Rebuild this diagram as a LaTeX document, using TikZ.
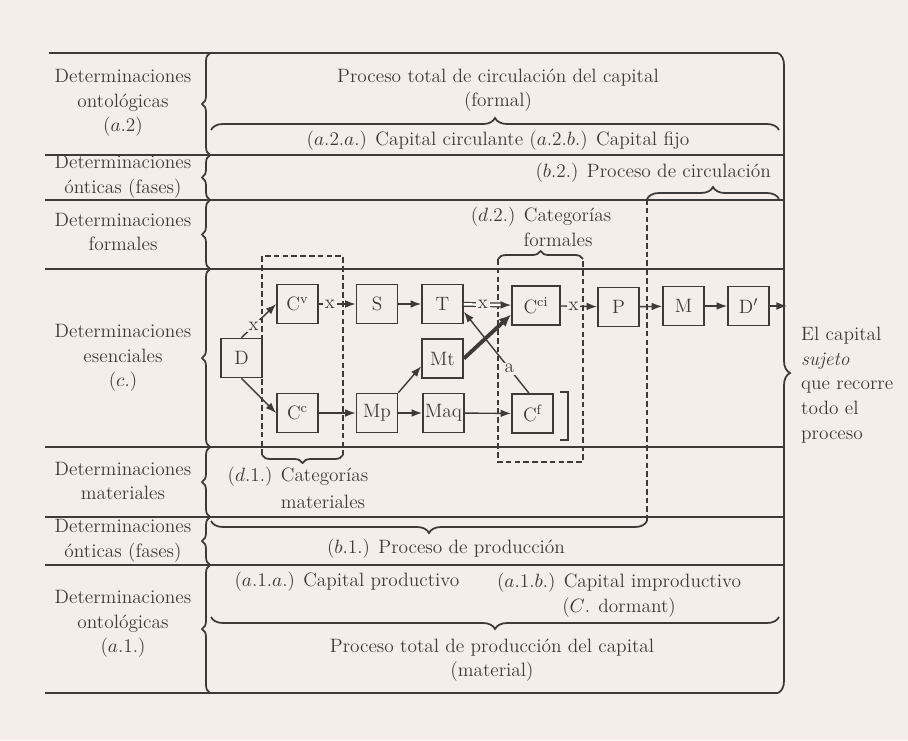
\documentclass[tikz,border=0pt]{standalone}
\usepackage{tikz}
\usetikzlibrary{arrows.meta, decorations.pathreplacing}
\definecolor{paper}{RGB}{245, 237, 233}
\definecolor{ink}{RGB}{62, 58, 58}

\begin{document}
\begin{tikzpicture}[x=0.02cm, y=-0.02cm, ink, text=ink, font=\fontsize{11}{14}\selectfont,
  box/.style={draw=ink, line width=1pt, minimum width=0.82cm, minimum height=0.78cm, inner sep=1pt},
  rowlbl/.style={align=center},
  tag/.style={fill=paper, inner sep=1pt},
  arr/.style={-{Latex[length=6pt, width=4.4pt]}, line width=0.8pt},
  frame/.style={line width=1pt},
  dline/.style={line width=0.8pt, dash pattern=on 3.2pt off 1.8pt},
  brc/.style={decorate, decoration={brace, amplitude=#1}, line width=1pt}]

  % Background
  \fill[paper] (0,0) rectangle (908,740);
  \useasboundingbox (0,0) rectangle (908,740);

  % Frame and rows
  \draw[frame] (49,53) -- (778,53);
  \draw[frame] (45,693) -- (778,693);
  \foreach \y in {155,200,269,447,517,565}
    \draw[frame] (45,\y) -- (784,\y);
  \draw[brc=0.24cm] (778,53) -- (778,693);
  \foreach \a/\b in {53/155, 155/200, 200/269, 269/447, 447/517, 517/565, 565/693}
    \draw[brc=0.16cm] (210,\b) -- (210,\a);

  % Row labels
  \node[rowlbl] (ont2) at (123,103) {Determinaciones\\ontológicas\\($a$.2)};
  \node[rowlbl] (ont2f) at (123,177) {Determinaciones\\ónticas (fases)};
  \node[rowlbl] (form) at (123,232) {Determinaciones\\formales};
  \node[rowlbl] (esen) at (123,358) {Determinaciones\\esenciales\\($c$.)};
  \node[rowlbl] (mat) at (123,481) {Determinaciones\\materiales};
  \node[rowlbl] (ont1f) at (123,541) {Determinaciones\\ónticas (fases)};
  \node[rowlbl] (ont1) at (123,624) {Determinaciones\\ontológicas\\($a$.1.)};

  % Circulation side
  \node[rowlbl] (circtot) at (498,90) {Proceso total de circulación del capital\\(formal)};
  \draw[brc=0.24cm] (211,130) -- (779,130);
  \node (circfij) at (498,141) {($a$.2.$a$.) Capital circulante ($a$.2.$b$.) Capital fijo};
  \node[anchor=east] (circ) at (777,173) {($b$.2.) Proceso de circulación};
  \draw[brc=0.24cm] (647,199) -- (779,199);
  \draw[dline] (647,199) -- (647,521);

  % Formal categories
  \node (d2a) at (541,217) {($d$.2.) Categorías};
  \node (d2b) at (558,240) {formales};
  \draw[brc=0.16cm] (498,259) -- (583,259);
  \draw[dline] (498,259) -- (498,462) -- (583,462) -- (583,259);

  % Material categories
  \draw[dline] (262,455) -- (262,256) -- (343,256) -- (343,455);
  \draw[brc=0.16cm] (343,455) -- (262,455);
  \node (d1a) at (298,477) {($d$.1.) Categorías};
  \node (d1b) at (323,502) {materiales};

  % Production side
  \draw[brc=0.24cm] (647,521) -- (211,521);
  \node (prod) at (446,549) {($b$.1.) Proceso de producción};
  \node (prodcap) at (347,582) {($a$.1.$a$.) Capital productivo};
  \node[rowlbl] (improd) at (619,595) {($a$.1.$b$.) Capital improductivo\\($C$. dormant)};
  \draw[brc=0.24cm] (779,617) -- (211,617);
  \node[rowlbl] (prodtot) at (492,660) {Proceso total de producción del capital\\(material)};

  % Subject
  \node[align=left, anchor=west] (sujeto) at (795,385) {El capital\\\textit{sujeto}\\que recorre\\todo el\\proceso};

  % Boxes
  \node[box] (D) at (241.5,358) {D};
  \node[box] (Cv) at (297.5,304) {C\textsuperscript{v}};
  \node[box] (Cc) at (297.5,413) {C\textsuperscript{c}};
  \node[box] (S) at (377,304) {S};
  \node[box] (T) at (442.5,304) {T};
  \node[box] (Mt) at (442.5,358.5) {Mt};
  \node[box] (Mp) at (377,413) {Mp};
  \node[box] (Maq) at (443.5,413) {Maq};
  \node[box, minimum width=0.96cm] (Cci) at (536,305.5) {C\textsuperscript{ci}};
  \node[box] (Cf) at (532.5,413.5) {C\textsuperscript{f}};
  \node[box] (P) at (618.5,307) {P};
  \node[box] (M) at (683.5,306) {M};
  \node[box] (Dp) at (748.5,306) {D$'$};
  \coordinate (exit) at (787,306);

  % Flows
  \draw[arr] (D.north) -- node[tag, pos=0.35] {x} (Cv.west);
  \draw[arr] (Cv) -- node[tag, pos=0.3] {x} (S);
  \draw[arr] (S) -- (T);
  \draw[arr, double, double distance=1.4pt, line width=0.7pt] (T) -- node[tag, pos=0.4] {x} (Cci);
  \draw[arr] (Cci) -- node[tag, pos=0.35] {x} (P);
  \draw[arr] (P) -- (M);
  \draw[arr] (M) -- (Dp);
  \draw[arr] (Dp) -- (exit);
  \draw[arr] (D.south) -- (Cc.west);
  \draw[arr] (Cc) -- (Mp);
  \draw[arr] (Mp.north east) -- (Mt.200);
  \draw[arr] (Mp) -- (Maq);
  \draw[arr] (Maq) -- (Cf);
  \draw[arr] (Cf.100) -- node[tag, pos=0.3] {a} (T.-20);
  \draw[-{Latex[length=7pt, width=6pt]}, line width=2.2pt] (Mt.east) -- (Cci.200);
  \draw[frame] (560,392) -- (568,392) -- (568,440) -- (560,440);
\end{tikzpicture}
\end{document}
